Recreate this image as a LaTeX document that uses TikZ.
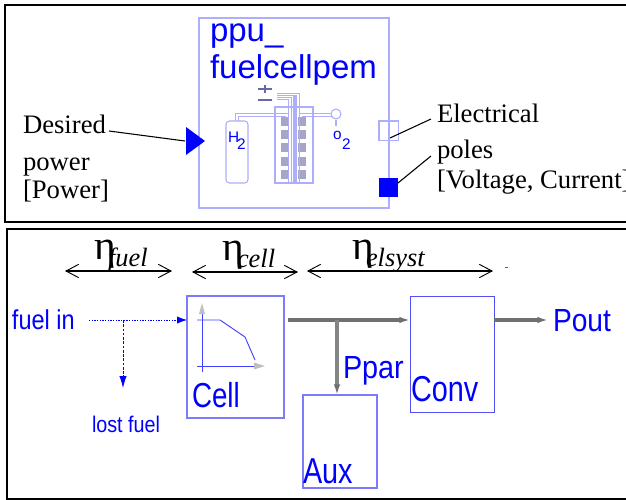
\documentclass[tikz,border=0pt]{standalone}
\usepackage{fontspec}
\setmainfont{Liberation Serif}
\setsansfont{Liberation Sans}
\usetikzlibrary{arrows.meta}
\definecolor{mblue}{HTML}{0000FF}
\definecolor{lblue}{HTML}{AEAEFF}
\definecolor{bbox}{HTML}{5050F5}
\definecolor{cellg}{HTML}{A5A5C5}
\definecolor{pm}{HTML}{6868A8}
\definecolor{flow}{HTML}{707070}
\newcommand{\sftext}[3]{\scalebox{#2}[1]{\sffamily\fontsize{#1}{#1}\selectfont #3}}
\tikzset{
  frame/.style={draw=black,line width=1.5pt},
  lab/.style={anchor=base west,inner sep=0pt,outer sep=0pt},
  serif/.style={lab,font=\fontsize{20pt}{20pt}\selectfont},
  etatext/.style={lab,font=\fontsize{31pt}{31pt}\selectfont},
  subtext/.style={lab,font=\itshape\fontsize{19.8pt}{19.8pt}\selectfont},
  bluetext/.style={lab,text=mblue},
  iconblue/.style={lab,text=mblue,font=\sffamily\fontsize{11.5pt}{11.5pt}\selectfont},
  diagbox/.style={draw=bbox,line width=0.8pt,anchor=north west,inner sep=0pt,outer sep=0pt},
  iconline/.style={draw=lblue,line width=0.8pt},
  pipeline/.style={draw=lblue,line width=0.7pt},
  cellbox/.style={fill=cellg,draw=none,minimum width=6pt,minimum height=7pt,inner sep=0pt,outer sep=0pt,anchor=north west},
  leader/.style={draw=black,line width=0.8pt},
  span/.style={draw=black,line width=1.4pt,{Straight Barb[length=9.5pt,width=10pt,line width=0.7pt]}-{Straight Barb[length=9.5pt,width=10pt,line width=0.7pt]}},
  fuelflow/.style={draw=mblue,line width=0.6pt,dash pattern=on 1pt off 1pt,-{Latex[length=7.5pt,width=5.5pt,mblue]}},
  lostflow/.style={draw=mblue,line width=0.6pt,dash pattern=on 2pt off 1.2pt,-{Latex[length=9pt,width=5.5pt,mblue]}},
  power/.style={draw=flow,line width=2.3pt,-{Latex[length=8pt,width=5pt,flow]}},
}
\begin{document}
\begin{tikzpicture}[x=0.75pt,y=-0.75pt]
\useasboundingbox (0,0) rectangle (626,500);
% frames
\draw[frame] (5,5) rectangle (640,222);
\draw[frame] (7,229) rectangle (640,499);

% ===== top block =====
\node[diagbox,draw=lblue,minimum width=142.5pt,minimum height=142.5pt] (block) at (199,18) {};
\node[bluetext,font=\sffamily\fontsize{24.75pt}{24.75pt}\selectfont] (title1) at (210,41) {ppu\_};
\node[bluetext,font=\sffamily\fontsize{24.75pt}{24.75pt}\selectfont] (title2) at (210,78) {fuelcellpem};

% input triangle
\fill[mblue] (186,127) -- (205,141) -- (186,155) -- cycle;
\coordinate (intip) at (185,141);
% ports
\node[diagbox,draw=lblue,minimum width=14.5pt,minimum height=14.5pt] (portA) at (379,121) {};
\node[diagbox,draw=none,fill=mblue,minimum width=14.5pt,minimum height=14.5pt] (portB) at (379,178) {};

% fuel cell icon
\node[diagbox,draw=lblue,rounded corners=2.5pt,minimum width=16.5pt,minimum height=46.5pt] (tank) at (226,121) {};
\node[diagbox,draw=lblue,minimum width=28.5pt,minimum height=57pt] (stack) at (275,107) {};
\foreach \yy in {117,130,143,157,170}{
  \node[cellbox] at (281,\yy) {};
  \node[cellbox] at (298,\yy) {};
}
% hydrogen pipe
\draw[pipeline] (235,121) -- (235,113) -- (288,113) -- (288,118);
\draw[pipeline] (238,121) -- (238,116) -- (285,116) -- (285,118);
% oxygen pipe
\draw[pipeline] (299,118) -- (299,113) -- (331,113);
\draw[pipeline] (302,118) -- (302,116) -- (332,116);
% electrode leads
\draw[draw=lblue,line width=3.5pt] (295,96) -- (295,183);
\draw[pipeline] (277,93) -- (299,93) -- (299,183);
\draw[pipeline] (277,95.5) -- (296.5,95.5) -- (296.5,183);
\draw[pipeline] (277,97) -- (291,97) -- (291,183);
\draw[pipeline] (277,99.5) -- (288.5,99.5) -- (288.5,183);
\node[circle,draw=lblue,fill=white,line width=0.8pt,minimum size=7.5pt,inner sep=0pt] (o2c) at (336,114) {};
\coordinate (o2s) at (336,126);
\draw[iconline] (o2c) -- (o2s);
% plus-minus
\draw[draw=pm,line width=1.5pt] (258,89) -- (272,89) (265,85) -- (265,93);
\draw[draw=pm,line width=2pt] (258,100) -- (272,100);
\node[iconblue] (hh) at (228,142) {H};
\node[iconblue] (h2) at (237,149) {2};
\node[iconblue] (oo) at (333,139) {o};
\node[iconblue] (o2) at (342,149) {2};

% labels top
\node[serif] (desired) at (23,133) {Desired};
\node[serif] (powerw) at (23,170) {power};
\node[serif] (powerb) at (23,198) {[Power]};
\node[serif] (elec) at (437,122) {Electrical};
\node[serif] (poles) at (437,158) {poles};
\node[serif] (volt) at (437,188) {[Voltage, Current]};
\coordinate (desend) at (109,131);
\coordinate (elend) at (431,119);
\coordinate (polend) at (431,156);
\coordinate (portAin) at (390,138);
\coordinate (portBin) at (398,183);
\draw[leader] (desend) -- (intip);
\draw[leader] (elend) -- (portAin);
\draw[leader] (polend) -- (portBin);

% ===== bottom =====
\coordinate (a1l) at (65,271); \coordinate (a1r) at (172,271);
\coordinate (a2l) at (192,272); \coordinate (a2r) at (298,272);
\coordinate (a3l) at (307,271); \coordinate (a3r) at (493,271);
\draw[span] (a1l) -- (a1r);
\draw[span] (a2l) -- (a2r);
\draw[span] (a3l) -- (a3r);
\node[etatext] (eta1) at (94,259) {η};
\node[subtext] (sub1) at (108,266) {fuel};
\node[etatext] (eta2) at (222,260) {η};
\node[subtext] (sub2) at (237,267) {cell};
\node[etatext] (eta3) at (352,259) {η};
\node[subtext] (sub3) at (366,266) {elsyst};
\draw[draw=bbox,line width=0.5pt] (505,267) -- (508,267);

\node[diagbox,draw=bbox!75,minimum width=72.75pt,minimum height=91.5pt] (cell) at (187,296) {};
\node[diagbox,draw=bbox!75,minimum width=55.5pt,minimum height=69.75pt] (aux) at (303,395) {};
\node[diagbox,line width=0.7pt,minimum width=63pt,minimum height=87pt] (conv) at (410,296) {};

\node[bluetext] (fuelin) at (12,329) {\sftext{20.5pt}{0.86}{fuel in}};
\node[bluetext] (lost) at (92,432) {\sftext{17pt}{0.87}{lost fuel}};
\node[bluetext] (celllab) at (192,407) {\sftext{26pt}{0.8}{Cell}};
\node[bluetext] (pout) at (553,331) {\sftext{24pt}{0.88}{Pout}};
\node[bluetext] (ppar) at (343,378) {\sftext{24pt}{0.9}{Ppar}};
\node[bluetext] (convlab) at (411,401) {\sftext{27pt}{0.8}{Conv}};
\node[bluetext] (auxlab) at (303,483) {\sftext{27pt}{0.8}{Aux}};

% cell icon
\draw[draw=mblue!75,line width=0.7pt] (197,320) -- (220,320) -- (245,337) -- (255,360);
\draw[draw=mblue!75,line width=0.7pt] (202,314) -- (202,372);
\draw[draw=mblue!75,line width=0.7pt] (197,366) -- (254,366);
\fill[black!25] (202,303) -- (205,314) -- (199,314) -- cycle;
\fill[black!25] (265,366) -- (254,362.5) -- (254,369.5) -- cycle;

% flows
\coordinate (fstart) at (89,320);
\coordinate (fbranch) at (123,320);
\coordinate (fend) at (123,388);
\coordinate (pstart) at (288,320);
\coordinate (pbranch) at (337,320);
\coordinate (pout0) at (548,320);
\draw[fuelflow] (fstart) -- (cell.west |- fstart);
\draw[lostflow] (fbranch) -- (fend);
\draw[power] (pstart) -- (conv.west |- pstart);
\draw[power,draw=flow!85] (pbranch) -- (pbranch |- aux.north);
\draw[power] (conv.east |- pstart) -- (pout0);
\end{tikzpicture}
\end{document}
